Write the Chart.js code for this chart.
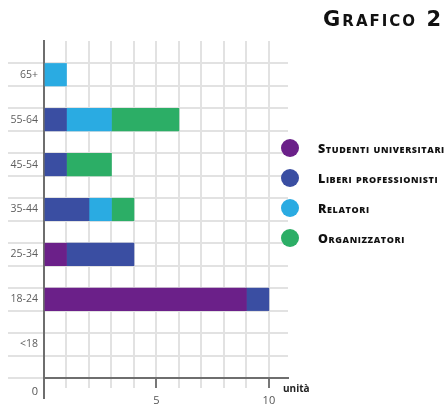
<!DOCTYPE html>
<html lang="it">
<head>
<meta charset="utf-8">
<script src="https://cdn.jsdelivr.net/npm/chart.js@4.4.0/dist/chart.umd.min.js"></script>
<style>
  body { margin: 0; background: #fff; }
  #wrap { position: relative; width: 445px; height: 407px; overflow: hidden; }
  #title {
    position: absolute; right: 2px; top: 6px;
    font: bold 21px "DejaVu Sans", sans-serif; font-variant: small-caps;
    color: #111; letter-spacing: 2px; line-height: 26px;
  }
  .leg { position: absolute; left: 281px; height: 18px; display: flex; align-items: center; }
  .leg span.dot { width: 18px; height: 18px; border-radius: 50%; margin-right: 19px; flex: none; }
  .leg span.txt {
    font: 800 12.5px "Open Sans", sans-serif; font-variant: small-caps;
    color: #111; white-space: nowrap; letter-spacing: 0.6px;
  }
</style>
</head>
<body>
<div id="wrap">
  <canvas id="myChart" width="445" height="407"></canvas>
  <div id="title">Grafico 2</div>
</div>
<script>
    const categories = ['65+', '55-64', '45-54', '35-44', '25-34', '18-24', '<18'];
    const studenti      = [0, 0, 0, 0, 1, 9, 0];
    const liberi        = [0, 1, 1, 2, 3, 1, 0];
    const relatori      = [1, 2, 0, 1, 0, 0, 0];
    const organizzatori = [0, 3, 2, 1, 0, 0, 0];
    const xTicks = [0, 1, 2, 3, 4, 5, 6, 7, 8, 9, 10];
    const seriesNames = ['Studenti universitari', 'Liberi professionisti', 'Relatori', 'Organizzatori'];
    const seriesColors = ['#6b2089', '#3a4ea2', '#2aabe2', '#2cae66'];

    // each category sits in its own band, with an empty band between them
    const labels = [''];
    categories.forEach(c => { labels.push(c); labels.push(''); });
    const pad = arr => {
        const out = [null];
        arr.forEach(v => { out.push(v === 0 ? null : v); out.push(null); });
        return out;
    };

    const allSeries = [studenti, liberi, relatori, organizzatori];
    const datasets = allSeries.map((s, i) => ({
        label: seriesNames[i],
        data: pad(s),
        backgroundColor: seriesColors[i],
        borderWidth: 0,
        barPercentage: 1,
        categoryPercentage: 1
    }));

    const extraText = {
        id: 'extraText',
        afterDraw(chart) {
            const ctx = chart.ctx;
            const x0 = chart.scales.x.getPixelForValue(0);
            const yb = chart.chartArea.bottom;
            ctx.save();
            // y axis line carries on below the x axis
            ctx.strokeStyle = '#6e6e6e';
            ctx.lineWidth = 2;
            ctx.beginPath();
            ctx.moveTo(x0, yb);
            ctx.lineTo(x0, yb + 21);
            ctx.stroke();
            ctx.fillStyle = '#555';
            ctx.font = '11px "Open Sans", sans-serif';
            ctx.textAlign = 'center';
            ctx.textBaseline = 'middle';
            ctx.fillText('0', x0 - 9, 392);
            ctx.fillStyle = '#222';
            ctx.font = 'bold 10px "Open Sans", sans-serif';
            ctx.textAlign = 'left';
            ctx.fillText('unità', 283, 389);
            ctx.restore();
        }
    };

    const config = {
        type: 'bar',
        data: { labels: labels, datasets: datasets },
        options: {
            indexAxis: 'y',
            responsive: false,
            animation: false,
            devicePixelRatio: 1,
            layout: { padding: { top: 41, right: 157, left: 0, bottom: 0 } },
            plugins: { legend: { display: false }, tooltip: { enabled: false } },
            scales: {
                x: {
                    stacked: true,
                    min: 0,
                    max: 10.85,
                    afterBuildTicks: scale => {
                        scale.ticks = xTicks.map(v => ({ value: v }));
                    },
                    afterFit: scale => { scale.height = 29; },
                    ticks: {
                        autoSkip: false,
                        maxRotation: 0,
                        padding: 6,
                        color: '#555',
                        font: { family: 'Open Sans', size: 11 },
                        callback: v => (v === 5 || v === 10) ? String(v) : ''
                    },
                    grid: {
                        color: '#e2e2e2',
                        lineWidth: 2,
                        tickLength: 10,
                        tickColor: c => (c.tick && (c.tick.value === 5 || c.tick.value === 10)) ? '#777' : '#e2e2e2'
                    },
                    border: { color: '#6e6e6e', width: 2 }
                },
                y: {
                    stacked: true,
                    afterFit: scale => { scale.width = 44; },
                    ticks: {
                        autoSkip: false,
                        padding: -30,
                        color: '#5e5e5e',
                        font: { family: 'Open Sans', size: 10.5 }
                    },
                    grid: {
                        offset: true,
                        lineWidth: 2,
                        tickLength: 36,
                        color: c => c.index === 0 ? 'rgba(0,0,0,0)' : '#e2e2e2',
                        tickColor: c => c.index === 0 ? 'rgba(0,0,0,0)' : (c.index === labels.length ? '#6e6e6e' : '#e2e2e2')
                    },
                    border: { color: '#6e6e6e', width: 2 }
                }
            }
        },
        plugins: [extraText]
    };

    const myChart = new Chart(document.getElementById('myChart'), config);

    // legend
    const wrap = document.getElementById('wrap');
    const legendTops = [139, 169, 199, 229];
    seriesNames.forEach((name, i) => {
        const row = document.createElement('div');
        row.className = 'leg';
        row.style.top = legendTops[i] + 'px';
        row.innerHTML = '<span class="dot" style="background:' + seriesColors[i] + '"></span><span class="txt"></span>';
        row.querySelector('.txt').textContent = name;
        wrap.appendChild(row);
    });
</script>
</body>
</html>
